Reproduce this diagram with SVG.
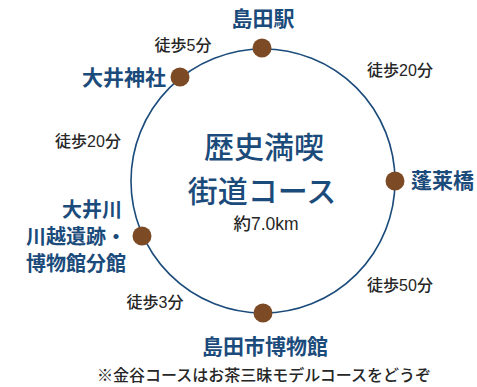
<svg xmlns="http://www.w3.org/2000/svg" width="477" height="387" viewBox="0 0 477 387">
<style>
.place{font-family:"Noto Sans CJK JP","Noto Sans CJK SC",sans-serif;font-size:21px;font-weight:bold;fill:#1b4b7b}
.place.sm{font-size:20px}
.walk{font-family:"Liberation Sans","Noto Sans CJK JP",sans-serif;font-size:16px;font-weight:500;fill:#262626}
.walk.km{font-size:17.5px}
.title{font-family:"Noto Sans CJK JP",sans-serif;font-size:30px;font-weight:500;fill:#1b4b7b}
.dot{fill:#7c4a24}
</style>
<rect width="477" height="387" fill="#fff"/>
<g id="connectors">
<circle cx="263" cy="181" r="132" fill="none" stroke="#1b4b7b" stroke-width="1.6"/>
</g>
<g id="shimada-station">
<circle class="dot" cx="262" cy="48" r="9.5"/>
<text class="place" x="263" y="26" text-anchor="middle">島田駅</text>
</g>
<g id="oi-shrine">
<circle class="dot" cx="180" cy="77" r="9.5"/>
<text class="place" x="166" y="85" text-anchor="end">大井神社</text>
</g>
<g id="horai-bridge">
<circle class="dot" cx="395" cy="181" r="9.5"/>
<text class="place" x="411" y="188">蓬莱橋</text>
</g>
<g id="oigawa">
<circle class="dot" cx="142" cy="236" r="9.5"/>
<text class="place sm" x="122" y="217" text-anchor="end">大井川</text>
<text class="place sm" x="126" y="244" text-anchor="end">川越遺跡・</text>
<text class="place sm" x="126" y="271" text-anchor="end">博物館分館</text>
</g>
<g id="shimada-museum">
<circle class="dot" cx="263" cy="313" r="9.5"/>
<text class="place" x="265" y="354" text-anchor="middle">島田市博物館</text>
</g>
<g id="center">
<text class="title" x="264" y="158" text-anchor="middle">歴史満喫</text>
<text class="title" x="262" y="202" text-anchor="middle">街道コース</text>
<text class="walk km" x="266" y="230" text-anchor="middle">約7.0km</text>
</g>
<g id="walk-labels">
<text class="walk" x="183" y="51" text-anchor="middle">徒歩5分</text>
<text class="walk" x="400" y="76" text-anchor="middle">徒歩20分</text>
<text class="walk" x="88" y="147" text-anchor="middle">徒歩20分</text>
<text class="walk" x="400" y="291" text-anchor="middle">徒歩50分</text>
<text class="walk" x="155" y="308" text-anchor="middle">徒歩3分</text>
</g>
<text class="walk" x="264" y="381" text-anchor="middle">※金谷コースはお茶三昧モデルコースをどうぞ</text>
</svg>
